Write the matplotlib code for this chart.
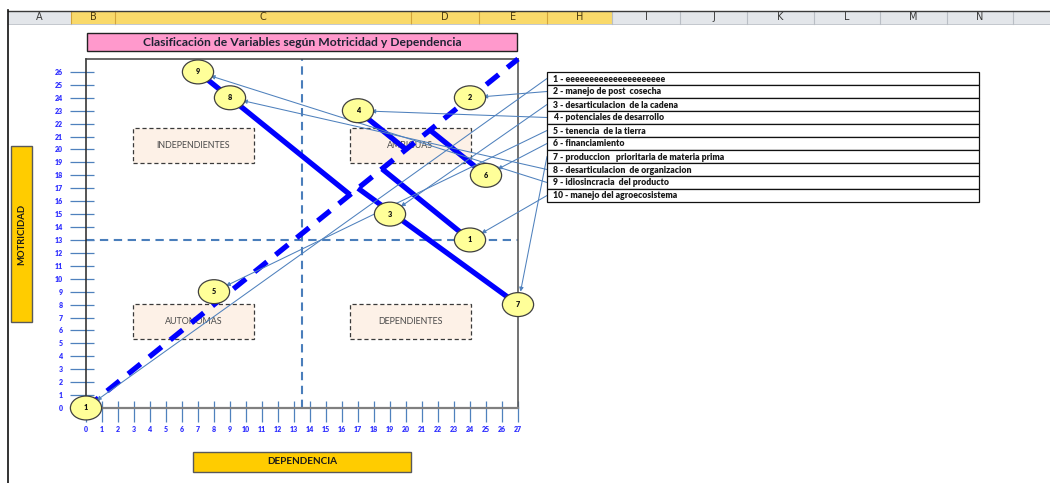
import matplotlib
matplotlib.use("Agg")
import matplotlib.pyplot as plt
from matplotlib import patches

plt.rcParams['font.family'] = ['Lato', 'DejaVu Sans']
plt.rcParams['lines.scale_dashes'] = False

# ---------------- data ----------------
var_ids = ["1", "2", "3", "4", "5", "6", "7", "8", "9", "10"]
var_circle_text = ["1", "2", "3", "4", "5", "6", "7", "8", "9", "1"]
dependencia = [0, 24, 19, 17, 8, 25, 27, 9, 7, 24]
motricidad = [0, 24, 15, 23, 9, 18, 8, 24, 26, 13]
var_names = ["eeeeeeeeeeeeeeeeeeeee", "manejo de post  cosecha",
             "desarticulacion  de la cadena", "potenciales de desarrollo",
             "tenencia  de la tierra", "financiamiento",
             "produccion   prioritaria de materia prima",
             "desarticulacion  de organizacion", "idiosincracia  del producto",
             "manejo del agroecosistema"]

# projection segments (point -> foot on the diagonal)
proj_from_x = [7, 17, 25, 24, 27]
proj_from_y = [26, 23, 18, 13, 8]
proj_to_x = [16.5, 20, 21.5, 18.5, 17]
proj_to_y = [16.5, 20, 21.5, 18.5, 17]

diag_x = [0, 27]
diag_y = [0, 27]
dep_split = 13.5
mot_split = 13

x_ticks = list(range(0, 28))
y_ticks = list(range(0, 27))

quadrants = ["INDEPENDIENTES", "AMBIGUAS", "AUTONOMAS", "DEPENDIENTES"]
columns = ["A", "B", "C", "D", "E", "H", "I", "J", "K", "L", "M", "N"]
selected_cols = ["B", "C", "D", "E", "H"]

title = "Clasificación de Variables según Motricidad y Dependencia"
xlabel = "DEPENDENCIA"
ylabel = "MOTRICIDAD"

# ---------------- figure ----------------
W, H = 1050, 483
fig = plt.figure(figsize=(W / 100, H / 100), dpi=100)
fig.patch.set_facecolor("white")


def frect(x0, y0, x1, y1, **kw):
    r = patches.Rectangle((x0 / W, 1 - y1 / H), (x1 - x0) / W, (y1 - y0) / H,
                          transform=fig.transFigure, **kw)
    fig.add_artist(r)
    return r


def fline(xs, ys, **kw):
    l = plt.Line2D([x / W for x in xs], [1 - y / H for y in ys],
                   transform=fig.transFigure, **kw)
    fig.add_artist(l)


# Excel column header band
col_edges = [8, 71, 115, 411, 479, 547, 612, 680, 747, 814, 880, 947, 1013]
frect(8, 11, 1050, 24, facecolor="#E3E6EA", edgecolor="none")
for i, c in enumerate(columns):
    x0, x1 = col_edges[i], col_edges[i + 1]
    sel = c in selected_cols
    if sel:
        frect(x0, 11, x1, 24, facecolor="#F9D96A", edgecolor="none")
    fig.text((x0 + x1) / 2 / W, 1 - 17.5 / H, c, ha="center", va="center",
             fontsize=7, color="#3A3A3A" if not sel else "#4A3A10",
             family="DejaVu Sans")
for i, e in enumerate(col_edges[1:]):
    col = "#D3A43A" if 1 <= i + 1 <= 5 else "#B9BEC5"
    fline([e, e], [11, 24], color=col, lw=0.8)
fline([8, 1050], [10.5, 10.5], color="#3A3A3A", lw=1.0)
fline([8, 1050], [24, 24], color="#B9BEC5", lw=0.6)
fline([8, 8], [10, 483], color="#111111", lw=1.2)

# Title box
frect(87, 33, 517, 51, facecolor="#FF99CC", edgecolor="#222222", lw=1.0)
fig.text(302 / W, 1 - 42 / H, title, ha="center", va="center",
         fontsize=8.7, fontweight="bold", color="#1E2233")

# axis label boxes
frect(11, 146, 32, 322, facecolor="#FFCC00", edgecolor="#595959", lw=1.0)
fig.text(21.5 / W, 1 - 234 / H, ylabel, rotation=90, ha="center", va="center",
         fontsize=6.8, fontweight="bold", color="#1A1A1A")
frect(193, 452, 411, 472, facecolor="#FFCC00", edgecolor="#595959", lw=1.0)
fig.text(302 / W, 1 - 462 / H, xlabel, ha="center", va="center",
         fontsize=7.2, fontweight="bold", color="#1A1A1A")

# legend table
t_left, t_right, t_top, row_h = 547, 979, 72, 13
for i, (vid, name) in enumerate(zip(var_ids, var_names)):
    y0 = t_top + i * row_h
    frect(t_left, y0, t_right, y0 + row_h, facecolor="white",
          edgecolor="#111111", lw=0.9, zorder=1)
    fig.text((t_left + 6) / W, 1 - (y0 + row_h / 2 + 0.5) / H,
             f"{vid} - {name}", ha="left", va="center", fontsize=6.2,
             fontweight="heavy", color="#1A1A1A")

# ---------------- chart axes ----------------
ax = fig.add_axes([86 / W, 1 - 408 / H, (518 - 86) / W, (408 - 59) / H])
ax.set_xlim(0, 27)
ax.set_ylim(0, 27)
ax.set_facecolor("white")

ax.set_xticks(x_ticks)
ax.set_yticks(y_ticks)
ax.set_xticks(x_ticks, minor=True)
ax.set_yticks(y_ticks, minor=True)
ax.xaxis.remove_overlapping_locs = False
ax.yaxis.remove_overlapping_locs = False
ax.set_xticklabels([str(v) for v in x_ticks])
ax.set_yticklabels([str(v) for v in y_ticks])
tick_col = "#4F81BD"
ax.tick_params(axis="x", which="major", direction="out", length=10, width=0.9,
               color=tick_col, labelcolor="#3030FF", labelsize=5, pad=3)
ax.tick_params(axis="x", which="minor", direction="in", length=5, width=0.9,
               color=tick_col)
ax.tick_params(axis="y", which="major", direction="out", length=11.5, width=0.9,
               color=tick_col, labelcolor="#3030FF", labelsize=5, pad=5)
ax.tick_params(axis="y", which="minor", direction="in", length=5.8, width=0.9,
               color=tick_col)
for lab in ax.get_xticklabels() + ax.get_yticklabels():
    lab.set_fontweight("heavy")

ax.spines["left"].set_color("#262626")
ax.spines["left"].set_linewidth(1.1)
ax.spines["bottom"].set_color("#808080")
ax.spines["bottom"].set_linewidth(1.6)
ax.spines["top"].set_color("#404040")
ax.spines["top"].set_linewidth(1.1)
ax.spines["right"].set_color("#5A5A5A")
ax.spines["right"].set_linewidth(1.2)

# quadrant boxes
q_boxes = [(2.94, 18.96), (16.5, 18.96), (2.94, 5.34), (16.5, 5.34)]
for (bx, by), name in zip(q_boxes, quadrants):
    ax.add_patch(patches.Rectangle((bx, by), 7.56, 2.74, facecolor="#FDF1E7",
                                   edgecolor="#3A3A3A", lw=0.9,
                                   linestyle=(0, (3, 2)), zorder=2))
    ax.text(bx + 3.78, by + 1.37, name, ha="center", va="center",
            fontsize=6.4, color="#4A4A4A", zorder=2.1)

# quadrant separators
ax.axvline(dep_split, color="#4A7EBB", lw=1.5, dashes=(6, 4), zorder=1.5)
ax.axhline(mot_split, color="#4A7EBB", lw=1.5, dashes=(6, 4), zorder=1.5)

# projections
for x0, y0, x1, y1 in zip(proj_from_x, proj_from_y, proj_to_x, proj_to_y):
    ax.plot([x0, x1], [y0, y1], color="#0000FF", lw=3.8,
            solid_capstyle="butt", zorder=3, clip_on=False)

# diagonal
ax.plot(diag_x, diag_y, color="#0000FF", lw=3.8, dashes=(11.5, 8),
        dash_capstyle="butt", zorder=3, clip_on=False)

# arrows from the table to the circles
for i, (x, y) in enumerate(zip(dependencia, motricidad)):
    ry = t_top + i * row_h + row_h / 2
    ax.annotate("", xy=(x, y), xycoords="data",
                xytext=(t_left, H - ry), textcoords="figure pixels",
                arrowprops=dict(arrowstyle="-|>", color="#4F81BD", lw=0.75,
                                shrinkA=0, shrinkB=9.5, mutation_scale=6),
                annotation_clip=False, zorder=4)

# circles
for x, y, t in zip(dependencia, motricidad, var_circle_text):
    ax.add_patch(patches.Ellipse((x, y), 1.95, 1.85, facecolor="#FFFF99",
                                 edgecolor="#404040", lw=0.9, zorder=5,
                                 clip_on=False))
    ax.text(x, y, t, ha="center", va="center", fontsize=5.2,
            fontweight="heavy", color="#111111", zorder=6, clip_on=False)

fig.savefig("out.png", dpi=100, facecolor="white")
